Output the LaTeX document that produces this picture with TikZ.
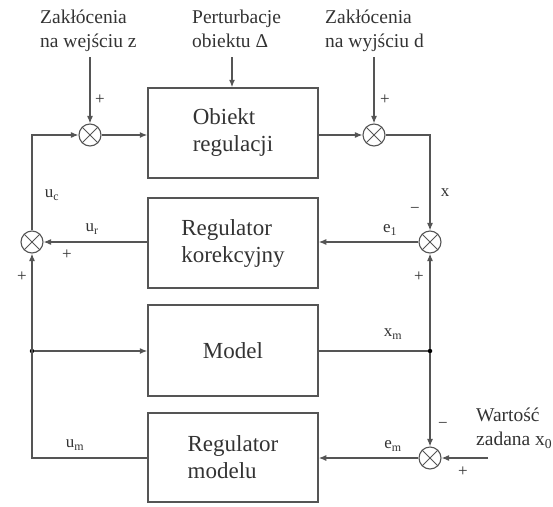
\documentclass[tikz,border=0pt]{standalone}
\usepackage{fontspec}
\setmainfont{Liberation Serif}
\usetikzlibrary{arrows.meta}
\definecolor{linegray}{HTML}{555555}
\definecolor{txtgray}{HTML}{333333}
\begin{document}
\begin{tikzpicture}[x=1pt,y=-1pt,
  line/.style={draw=linegray, line width=1.2pt},
  arr/.style={line, -{Latex[length=7.5pt,width=6pt]}},
  blk/.style={draw=linegray, line width=1.5pt, minimum width=170pt, minimum height=90pt,
    font=\fontsize{23}{27}\selectfont, align=left, text=txtgray},
  sum/.style={circle, draw=linegray, line width=1.1pt, minimum size=22pt, inner sep=0pt,
    path picture={\draw[linegray, line width=1pt]
      (path picture bounding box.north west) -- (path picture bounding box.south east)
      (path picture bounding box.north east) -- (path picture bounding box.south west);}},
  lbl/.style={font=\fontsize{19.5}{24}\selectfont, text=txtgray, align=left, inner sep=0pt, anchor=north west},
  sg/.style={font=\fontsize{17}{17}\selectfont, text=txtgray, inner sep=0pt},
  dot/.style={circle, fill=black, inner sep=0pt, minimum size=4.5pt}
]
\useasboundingbox (0,0) rectangle (553,506);

% blocks
\node[blk] (obj) at (233,133) {Obiekt\\regulacji};
\node[blk] (rk)  at (233,243) {Regulator\\korekcyjny};
\node[blk, minimum height=91pt] (mod) at (233,350.5) {Model};
\node[blk, minimum height=89pt] (rm)  at (233,457.5) {Regulator\\modelu};

% summing junctions
\node[sum] (S1) at (90,135) {};
\node[sum] (S2) at (374,135) {};
\node[sum] (S3) at (430,242) {};
\node[sum] (S4) at (32,242) {};
\node[sum] (S5) at (430,458) {};

% branch points
\node[dot] (dL) at (32,351) {};
\node[dot] (dR) at (430,351) {};

% external labels
\node[lbl] (zin) at (40,10) {Zakłócenia\\na wejściu z};
\node[lbl] (pert) at (192,10) {Perturbacje\\obiektu Δ};
\node[lbl] (zout) at (325,10) {Zakłócenia\\na wyjściu d};
\node[lbl] (w0) at (476,408) {Wartość\\zadana x\textsubscript{0}};

\coordinate (zinT) at (90,57);
\coordinate (pertT) at (232,57);
\coordinate (zoutT) at (374,57);
\coordinate (x0in) at (488,458);

% connectors
\draw[arr] (zinT) -- (S1);
\draw[arr] (pertT) -- (pertT |- obj.north);
\draw[arr] (zoutT) -- (S2);
\draw[arr] (S1) -- (S1 -| obj.west);
\draw[arr] (S2 -| obj.east) -- (S2);
\draw[arr] (S2) -| (S3);
\draw[arr] (S3) -- (S3 -| rk.east);
\draw[arr] (S4 -| rk.west) -- (S4);
\draw[arr] (S4) |- (S1);
\draw[arr] (S5 -| rm.west) -| (S4);
\draw[arr] (dL) -- (dL -| mod.west);
\draw[line] (dR -| mod.east) -- (dR);
\draw[arr] (dR) -- (S3);
\draw[arr] (dR) -- (S5);
\draw[arr] (S5) -- (S5 -| rm.east);
\draw[arr] (x0in) -- (S5);

% signs and signal labels
\node[sg] (p1) at (100,100) {+};
\node[sg] (p2) at (385,100) {+};
\node[sg] (uc) at (52,195) {u\textsubscript{c}};
\node[sg] (ur) at (92,229) {u\textsubscript{r}};
\node[sg] (p3) at (67,255) {+};
\node[sg] (p4) at (22,277) {+};
\node[sg] (xl) at (445,193) {x};
\node[sg] (m1) at (415,210) {−};
\node[sg] (e1) at (390,230) {e\textsubscript{1}};
\node[sg] (p5) at (419,277) {+};
\node[sg] (xm) at (393,334) {x\textsubscript{m}};
\node[sg] (m2) at (443,425) {−};
\node[sg] (em) at (393,446) {e\textsubscript{m}};
\node[sg] (p6) at (463,472) {+};
\node[sg] (um) at (75,445) {u\textsubscript{m}};
\end{tikzpicture}
\end{document}
